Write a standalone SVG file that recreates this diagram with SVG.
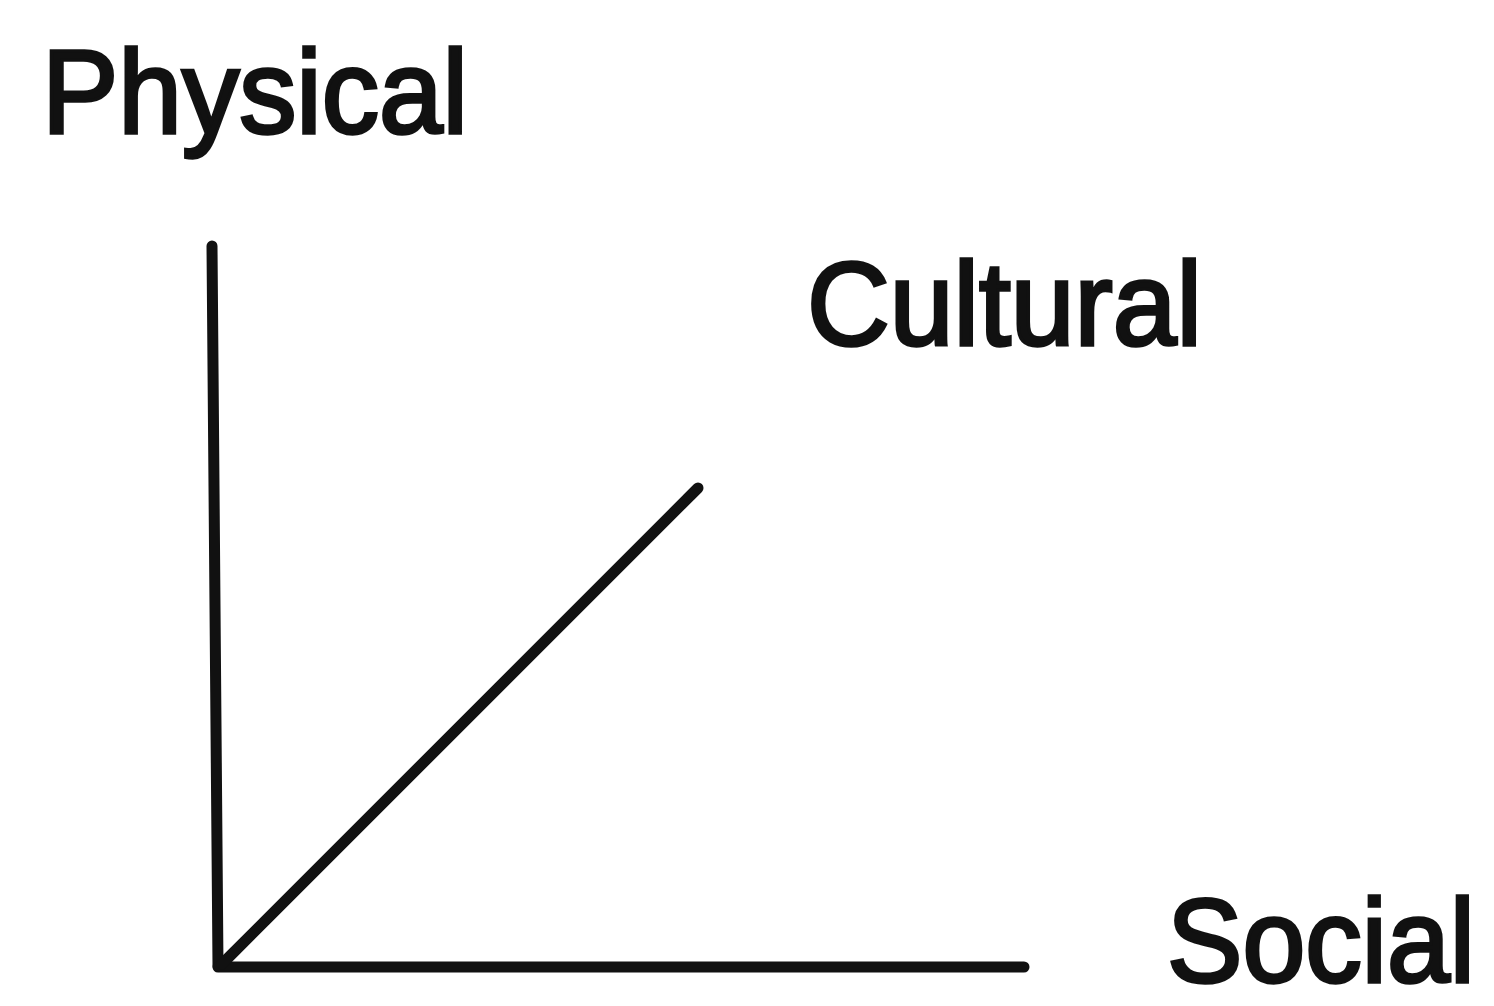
<svg xmlns="http://www.w3.org/2000/svg" width="1494" height="1006" viewBox="0 0 1494 1006">
<style>
.lbl{font-family:"Liberation Sans",Arial,sans-serif;font-size:118px;fill:#111;stroke:#111;stroke-width:3.5}
.ax{stroke:#111;stroke-width:11;stroke-linecap:round;fill:none}
</style>
<rect width="1494" height="1006" fill="#fff"/>
<g id="connectors">
<line class="ax" x1="212" y1="246" x2="218" y2="966"/>
<line class="ax" x1="218" y1="967" x2="1024" y2="967"/>
<line class="ax" x1="222" y1="964" x2="698" y2="488"/>
</g>
<g id="physical"><text class="lbl" x="42" y="133" textLength="426" lengthAdjust="spacingAndGlyphs">Physical</text></g>
<g id="cultural"><text class="lbl" x="807" y="345" textLength="395" lengthAdjust="spacingAndGlyphs">Cultural</text></g>
<g id="social"><text class="lbl" x="1167" y="982" font-size="112" textLength="308" lengthAdjust="spacingAndGlyphs">Social</text></g>
</svg>
